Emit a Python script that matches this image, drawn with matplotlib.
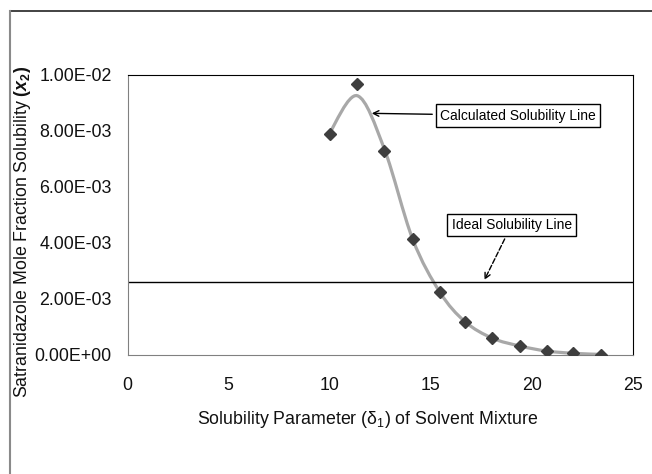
import numpy as np
import matplotlib
matplotlib.use('Agg')
import matplotlib.pyplot as plt
from matplotlib.path import Path
from matplotlib.patches import PathPatch
from matplotlib.lines import Line2D

plt.rcParams['font.family'] = ['Liberation Sans', 'DejaVu Sans']
plt.rcParams['mathtext.fontset'] = 'custom'
plt.rcParams['mathtext.rm'] = 'Liberation Sans'
plt.rcParams['mathtext.bf'] = 'Liberation Sans:bold'
plt.rcParams['mathtext.it'] = 'Liberation Sans:italic'
bfit = r'\mathbf'
if 'mathtext.bfit' in plt.rcParams:
	plt.rcParams['mathtext.bfit'] = 'Liberation Sans:italic:bold'
	bfit = r'\mathbfit'

# data
delta = [10.01, 11.36, 12.70, 14.10, 15.45, 16.69, 18.04, 19.41, 20.73, 22.05, 23.42]
x2_exp = [7.89e-3, 9.67e-3, 7.30e-3, 4.14e-3, 2.24e-3, 1.19e-3, 0.60e-3, 0.32e-3, 0.14e-3, 0.06e-3, 0.01e-3]
x2_calc = [7.95e-3, 9.26e-3, 7.36e-3, 4.14e-3, 2.24e-3, 1.19e-3, 0.60e-3, 0.32e-3, 0.14e-3, 0.06e-3, 0.02e-3]
x2_ideal = 2.62e-3

xticks = [0, 5, 10, 15, 20, 25]
yticks = [0, 2e-3, 4e-3, 6e-3, 8e-3, 1e-2]
ytick_labels = ['0.00E+00', '2.00E-03', '4.00E-03', '6.00E-03', '8.00E-03', '1.00E-02']


def smooth_path(xs, ys):
	# excel style smoothed line: cubic bezier through every point
	p = np.column_stack([xs, ys])
	pp = np.vstack([p[0], p, p[-1]])
	verts = [p[0]]
	codes = [Path.MOVETO]
	for i in range(len(p) - 1):
		c1 = pp[i + 1] + (pp[i + 2] - pp[i]) / 6.
		c2 = pp[i + 2] - (pp[i + 3] - pp[i + 1]) / 6.
		verts += [c1, c2, pp[i + 2]]
		codes += [Path.CURVE4] * 3
	return Path(verts, codes)


fig = plt.figure(figsize=(6.52, 4.74), dpi=100)
ax = fig.add_axes([0.1956, 0.2511, 0.7753, 0.5907])

# outer chart frame (cropped on right and bottom)
fig.add_artist(Line2D([0.0153, 1.0], [0.9774, 0.9774], color='#222222', lw=1.2))
fig.add_artist(Line2D([0.0153, 0.0153], [0.0, 0.9774], color='#8a8a8a', lw=1.5))

ax.add_patch(PathPatch(smooth_path(delta, x2_calc), fill=False, edgecolor='#a8a8a8', lw=2.3, zorder=2))
ax.plot(delta, x2_exp, linestyle='none', marker='D', markersize=6.4,
	color='#3e3e3e', zorder=3)
ax.axhline(x2_ideal, color='black', lw=1.0, zorder=2)

ax.annotate('Calculated Solubility Line', xy=(12.08, 8.63e-3), xytext=(19.29, 8.55e-3),
	ha='center', va='center', fontsize=10,
	bbox=dict(boxstyle='square,pad=0.3', fc='white', ec='black', lw=1),
	arrowprops=dict(arrowstyle='->', color='black', lw=1, shrinkB=0))
ax.annotate('Ideal Solubility Line', xy=(17.65, 2.68e-3), xytext=(19.0, 4.65e-3),
	ha='center', va='center', fontsize=10,
	bbox=dict(boxstyle='square,pad=0.3', fc='white', ec='black', lw=1),
	arrowprops=dict(arrowstyle='->', color='black', lw=1, linestyle='--', shrinkB=0))

ax.set_xlim(0, 25)
ax.set_ylim(0, 1e-2)
ax.set_xticks(xticks)
ax.set_yticks(yticks)
ax.set_yticklabels(ytick_labels)
ax.tick_params(axis='both', length=0, labelsize=12.8, colors='#111111')
ax.tick_params(axis='y', pad=11.5)
ax.tick_params(axis='x', pad=16)

for side in ['top', 'right']:
	ax.spines[side].set_color('black')
for side in ['left', 'bottom']:
	ax.spines[side].set_color('#808080')

fig.text(368 / 652., 1 - 420 / 474., r'Solubility Parameter (δ$_1$) of Solvent Mixture',
	ha='center', va='center', fontsize=12.8, color='#111111')
fig.text(23 / 652., 1 - 232 / 474.,
	'Satranidazole Mole Fraction Solubility $\\mathbf{(}' + bfit + '{x}_\\mathbf{2}\\mathbf{)}$',
	ha='center', va='center', rotation=90, fontsize=12.8, color='#111111')

fig.savefig('out.png', dpi=100)
